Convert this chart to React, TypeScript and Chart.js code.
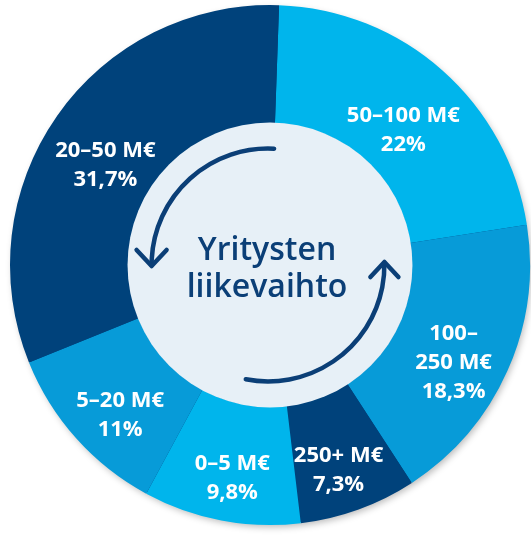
import React, { useEffect, useRef } from 'react';
import { Chart, registerables } from 'chart.js';

Chart.register(...registerables);

const categories = ['50–100 M€', '100–250 M€', '250+ M€', '0–5 M€', '5–20 M€', '20–50 M€'];
const shares = [22, 18.3, 7.3, 9.8, 11, 31.7];
const shareLabels = ['22%', '18,3%', '7,3%', '9,8%', '11%', '31,7%'];
const labelLines = [['50–100 M€'], ['100–', '250 M€'], ['250+ M€'], ['0–5 M€'], ['5–20 M€'], ['20–50 M€']];
const sliceColors = ['#00B5EC', '#079BD8', '#00427B', '#00B5EC', '#079BD8', '#00427B'];
const centerTitle = ['Yritysten', 'liikevaihto'];

const NAVY = '#0B3F77';
const INNER = '#E7F0F7';

const decorPlugin = {
  id: 'decor',
  beforeDatasetsDraw(chart: any) {
    const meta = chart.getDatasetMeta(0);
    const a = meta.data[0];
    if (!a) return;
    const { x, y, outerRadius } = a.getProps(['x', 'y', 'outerRadius'], true);
    const ctx = chart.ctx;
    ctx.save();
    ctx.shadowColor = 'rgba(0,0,0,0.28)';
    ctx.shadowBlur = 7;
    ctx.shadowOffsetX = 2;
    ctx.shadowOffsetY = 3;
    ctx.beginPath();
    ctx.arc(x, y, outerRadius - 1, 0, Math.PI * 2);
    ctx.fillStyle = '#00427B';
    ctx.fill();
    ctx.restore();
  },
  afterDatasetsDraw(chart: any) {
    const meta = chart.getDatasetMeta(0);
    const ctx = chart.ctx;
    const first = meta.data[0];
    if (!first) return;
    const { x, y, innerRadius } = first.getProps(['x', 'y', 'innerRadius'], true);

    // inner disk
    ctx.save();
    ctx.beginPath();
    ctx.arc(x, y, innerRadius + 0.5, 0, Math.PI * 2);
    ctx.fillStyle = INNER;
    ctx.fill();

    // center title
    ctx.fillStyle = NAVY;
    ctx.font = '600 32px "Open Sans"';
    ctx.textAlign = 'center';
    ctx.textBaseline = 'middle';
    ctx.fillText(centerTitle[0], x - 3, y - 14);
    ctx.fillText(centerTitle[1], x - 3, y + 23);

    // arrows
    const rA = innerRadius * 0.82;
    const d2r = Math.PI / 180;
    ctx.strokeStyle = NAVY;
    ctx.lineWidth = 4.5;
    ctx.lineCap = 'round';
    ctx.lineJoin = 'round';
    ctx.beginPath();
    ctx.arc(x - 2, y, rA, -87 * d2r, -180 * d2r, true);
    ctx.stroke();
    let tx = x - 2 - rA, ty = y + 1;
    ctx.beginPath();
    ctx.moveTo(tx - 15, ty - 16);
    ctx.lineTo(tx, ty);
    ctx.lineTo(tx + 15, ty - 16);
    ctx.stroke();
    ctx.beginPath();
    ctx.arc(x - 2, y, rA, 101 * d2r, -1 * d2r, true);
    ctx.stroke();
    tx = x - 2 + rA; ty = y - 3;
    ctx.beginPath();
    ctx.moveTo(tx - 14, ty + 15);
    ctx.lineTo(tx, ty);
    ctx.lineTo(tx + 14, ty + 15);
    ctx.stroke();

    // slice labels
    ctx.fillStyle = '#FFFFFF';
    ctx.font = 'bold 22px "Open Sans"';
    const lh = 29;
    meta.data.forEach((arc: any, i: number) => {
      const p = arc.getProps(['startAngle', 'endAngle', 'innerRadius', 'outerRadius'], true);
      const mid = (p.startAngle + p.endAngle) / 2;
      const r = (p.innerRadius + p.outerRadius) / 2;
      const px = x + Math.cos(mid) * r;
      const py = y + Math.sin(mid) * r + 16;
      const lines = [...labelLines[i], shareLabels[i]];
      const y0 = py - ((lines.length - 1) * lh) / 2;
      lines.forEach((t, k) => ctx.fillText(t, px, y0 + k * lh));
    });
    ctx.restore();
  },
};

export default function App() {
  const ref = useRef<HTMLCanvasElement | null>(null);
  useEffect(() => {
    if (!ref.current) return;
    const chart = new Chart(ref.current, {
      type: 'doughnut',
      data: {
        labels: categories,
        datasets: [
          {
            data: shares,
            backgroundColor: sliceColors,
            borderWidth: 0,
            hoverOffset: 0,
            offset: 0,
          },
        ],
      },
      options: {
        animation: false,
        responsive: true,
        maintainAspectRatio: false,
        rotation: 2,
        cutout: '54.6%',
        layout: { padding: { left: 10, right: 1, top: 5, bottom: 11 } },
        plugins: { legend: { display: false }, tooltip: { enabled: false } },
        events: [],
      },
      plugins: [decorPlugin],
    });
    return () => chart.destroy();
  }, []);
  return (
    <div style={{ position: 'fixed', left: 0, top: 0, width: 531, height: 536, background: '#fff' }}>
      <canvas ref={ref} />
    </div>
  );
}
